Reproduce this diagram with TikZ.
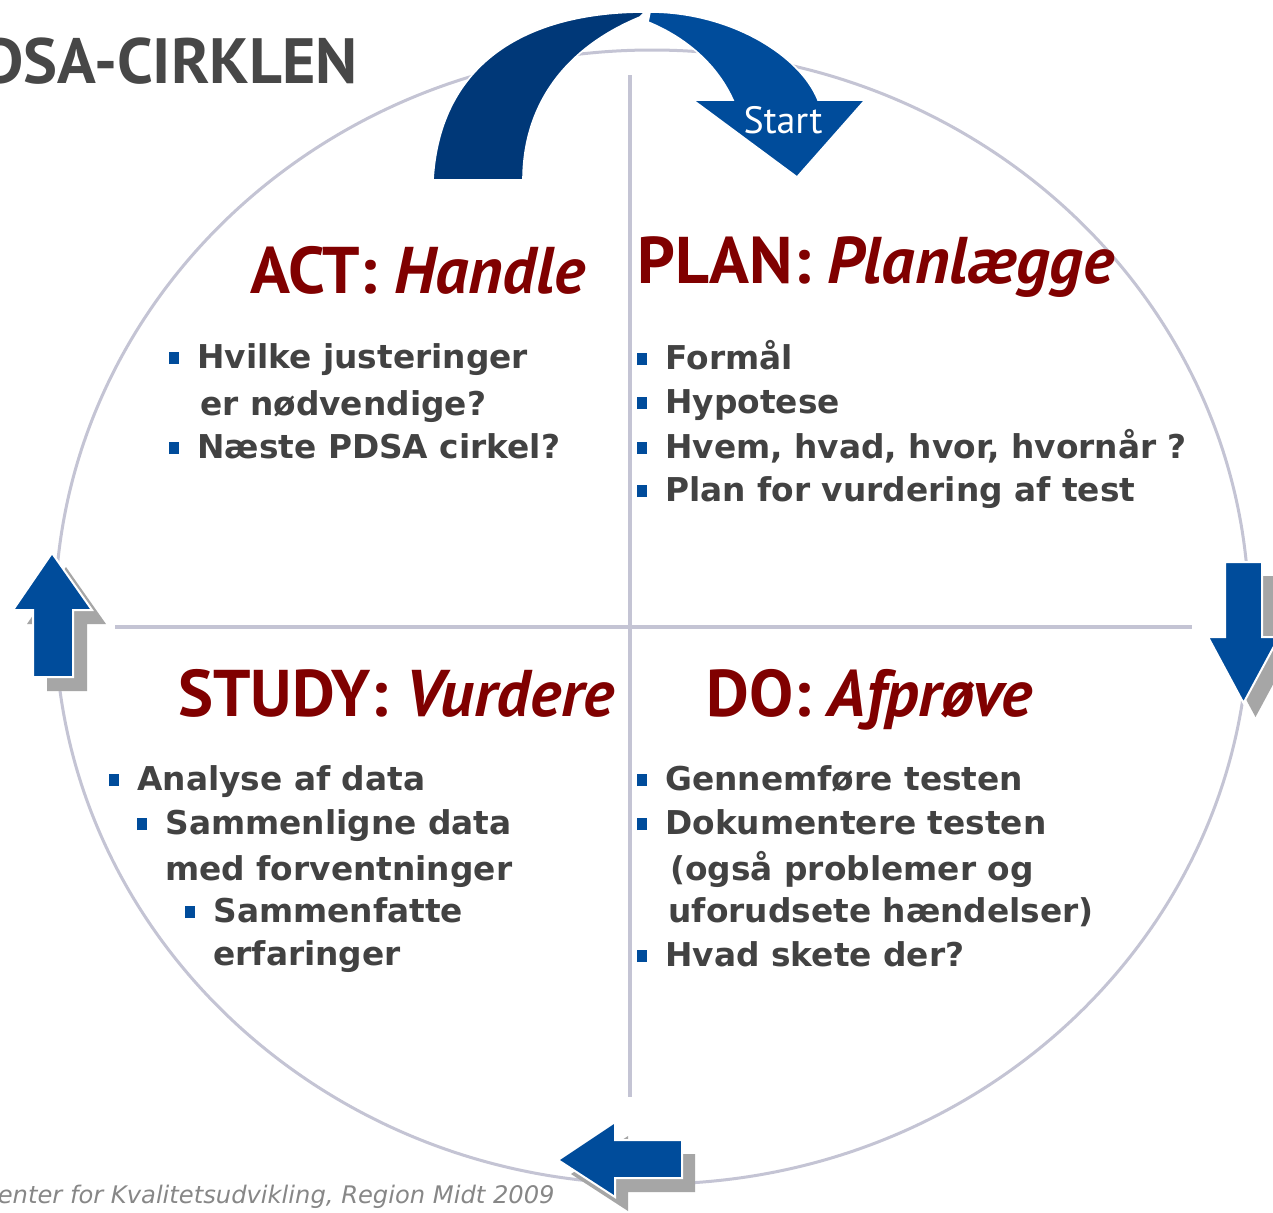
\documentclass[tikz,border=0pt]{standalone}
\usepackage{fontspec}
\newfontfamily\bodyf{DejaVu Sans}
\newfontfamily\headf{PT Sans}
\definecolor{ringgray}{RGB}{196,196,212}
\definecolor{bodygray}{RGB}{66,66,66}
\definecolor{headred}{RGB}{128,0,0}
\definecolor{bblue}{RGB}{0,76,155}
\definecolor{arrowblue}{RGB}{0,76,155}
\definecolor{darkblue}{RGB}{0,56,120}
\definecolor{shadowgray}{RGB}{166,166,166}
\definecolor{titlegray}{RGB}{71,71,71}
\definecolor{footgray}{RGB}{135,135,135}
\newcommand\bul{\llap{\textcolor{bblue}{\rule[2pt]{5pt}{6pt}}\hspace{9pt}}}
\begin{document}
\begin{tikzpicture}[x=0.5pt,y=-0.5pt,
  body/.style={anchor=base west, inner sep=0pt, text=bodygray, font=\bodyf\bfseries\fontsize{16.4}{18}\selectfont},
  head/.style={anchor=base west, inner sep=0pt, text=headred, font=\headf\bfseries\fontsize{33}{36}\selectfont},
  ring/.style={draw=ringgray, line width=1.5pt},
  cross/.style={draw=ringgray, line width=2pt},
  blockarrow/.style={fill=arrowblue, draw=white, line width=1pt, line join=miter},
  shadowarrow/.style={fill=shadowgray}
]
\useasboundingbox (0,0) rectangle (1273,1212);
\clip (0,0) rectangle (1273,1212);
\fill[white] (0,0) rectangle (1273,1212);

% ring and cross
\draw[ring] (652,617) ellipse [x radius=597, y radius=567];
\draw[cross] (630,75) -- (630,1097);
\draw[cross] (115,627) -- (1192,627);

% left up arrow
\fill[shadowarrow, shift={(14,14)}] (52,553) -- (92,610) -- (73,610) -- (73,677) -- (33,677) -- (33,610) -- (13,610) -- cycle;
\path[blockarrow] (52,553) -- (92,610) -- (73,610) -- (73,677) -- (33,677) -- (33,610) -- (13,610) -- cycle;
% right down arrow
\fill[shadowarrow, shift={(12,14)}] (1243.5,703) -- (1208,637) -- (1225,637) -- (1225,562) -- (1262,562) -- (1262,637) -- (1279,637) -- cycle;
\path[blockarrow] (1243.5,703) -- (1208,637) -- (1225,637) -- (1225,562) -- (1262,562) -- (1262,637) -- (1279,637) -- cycle;
% bottom left arrow
\fill[shadowarrow, shift={(13,14)}] (558,1160) -- (615,1122) -- (615,1140) -- (682,1140) -- (682,1178) -- (615,1178) -- (615,1197) -- cycle;
\path[blockarrow] (558,1160) -- (615,1122) -- (615,1140) -- (682,1140) -- (682,1178) -- (615,1178) -- (615,1197) -- cycle;

% top curved arrow
\path[fill=darkblue, draw=white, line width=0.8pt] (433,180) -- (523,180)
  .. controls (523,110) and (560,50) .. (640,17) -- (645,12)
  .. controls (530,12) and (440,60) .. (433,180) -- cycle;
\path[fill=arrowblue, draw=white, line width=0.8pt] (650,12)
  .. controls (730,12) and (800,55) .. (818,100) -- (865,100) -- (797,177) -- (693,100) -- (733,100)
  .. controls (715,60) and (680,35) .. (648,22) -- cycle;
\node[anchor=base, inner sep=0pt, text=white, font=\headf\fontsize{19}{20}\selectfont] (start) at (783,133) {Start};

% title and footer (cut off at the left edge, as in the reference)
\node[anchor=base east, inner sep=0pt, text=titlegray, font=\headf\bfseries\fontsize{32}{34}\selectfont] (title) at (358,83) {PDSA-CIRKLEN};
\node[anchor=base east, inner sep=0pt, text=footgray, font=\bodyf\itshape\fontsize{12.1}{14}\selectfont] (foot) at (555,1203) {Center for Kvalitetsudvikling, Region Midt 2009};

% headings
\node[head] (acth) at (250,293) {ACT: \textit{Handle}};
\node[head] (planh) at (637,283) {PLAN: \textit{Planlægge}};
\node[head] (studyh) at (178,716) {STUDY: \textit{Vurdere}};
\node[head] (doh) at (706,716) {DO: \textit{Afprøve}};

% ACT
\node[body] (a1) at (197,368) {\bul Hvilke justeringer};
\node[body] (a2) at (200,415) {er nødvendige?};
\node[body] (a3) at (197,458) {\bul Næste PDSA cirkel?};
% PLAN
\node[body] (p1) at (665,369) {\bul Formål};
\node[body] (p2) at (665,413) {\bul Hypotese};
\node[body] (p3) at (665,458) {\bul Hvem, hvad, hvor, hvornår ?};
\node[body] (p4) at (665,501) {\bul Plan for vurdering af test};
% STUDY
\node[body] (s1) at (137,790) {\bul Analyse af data};
\node[body] (s2) at (165,834) {\bul Sammenligne data};
\node[body] (s3) at (165,880) {med forventninger};
\node[body] (s4) at (213,922) {\bul Sammenfatte};
\node[body] (s5) at (213,965) {erfaringer};
% DO
\node[body] (d1) at (665,790) {\bul Gennemføre testen};
\node[body] (d2) at (665,834) {\bul Dokumentere testen};
\node[body] (d3) at (670,880) {(også problemer og};
\node[body] (d4) at (668,922) {uforudsete hændelser)};
\node[body] (d5) at (665,966) {\bul Hvad skete der?};
\end{tikzpicture}
\end{document}
